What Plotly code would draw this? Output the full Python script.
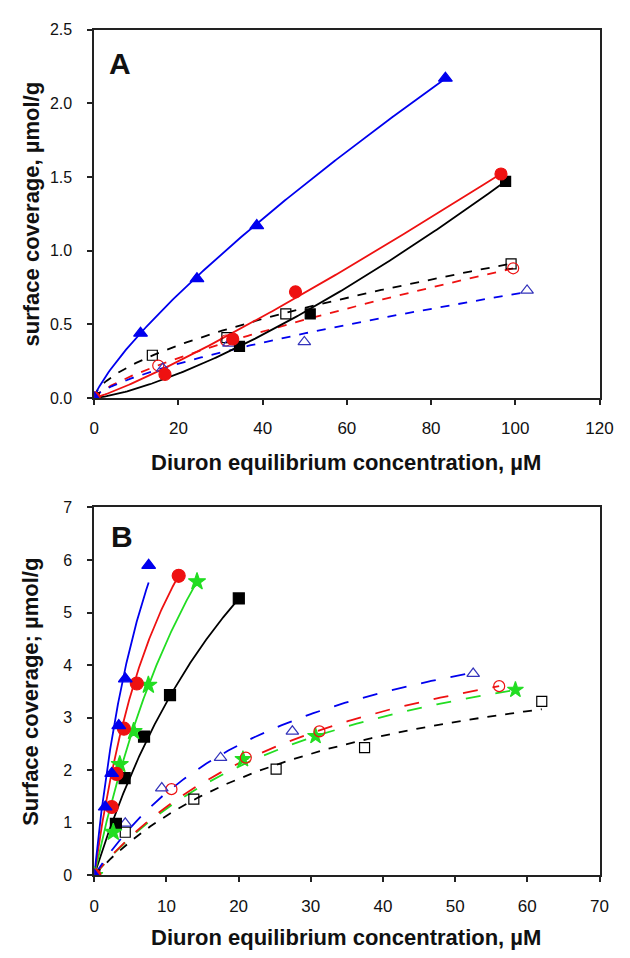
import numpy as np
import plotly.graph_objects as go

W, H = 630, 958

# ---------------- Panel A data (Diuron, µM vs µmol/g) ----------------
a_blue_x = [0, 11.0, 24.4, 38.6, 83.4]
a_blue_y = [0, 0.44, 0.81, 1.17, 2.17]
a_red_x = [0, 16.8, 32.9, 47.8, 96.6]
a_red_y = [0, 0.16, 0.40, 0.72, 1.52]
a_black_x = [0, 34.5, 51.3, 97.7]
a_black_y = [0, 0.35, 0.57, 1.47]
a_osq_x = [0, 13.8, 31.5, 45.5, 99.0]
a_osq_y = [0, 0.29, 0.41, 0.57, 0.91]
a_ocirc_x = [0, 15.2, 31.3, 99.5]
a_ocirc_y = [0, 0.22, 0.39, 0.88]
a_otri_x = [0, 16.3, 32.0, 49.9, 102.8]
a_otri_y = [0, 0.20, 0.37, 0.38, 0.73]

# Freundlich fit parameters (K, n, x_end)
a_fits = {
    "blue_solid": (0.0667, 0.787, 83.5),
    "red_solid": (0.00794, 1.15, 96.5),
    "black_solid": (0.00264, 1.38, 97.5),
    "black_dash": (0.062, 0.585, 99.0),
    "red_dash": (0.0302, 0.733, 99.5),
    "blue_dash": (0.0297, 0.688, 103.0),
}

# ---------------- Panel B data ----------------
b_blue_x = [0, 1.52, 2.42, 3.4, 4.3, 7.54]
b_blue_y = [0, 1.30, 1.94, 2.85, 3.74, 5.90]
b_red_x = [0, 2.42, 3.09, 4.12, 5.9, 11.7]
b_red_y = [0, 1.30, 1.93, 2.79, 3.65, 5.70]
b_green_x = [0, 2.64, 3.54, 5.46, 7.5, 14.24]
b_green_y = [0, 0.82, 2.11, 2.74, 3.62, 5.59]
b_black_x = [0, 3.0, 4.21, 6.9, 10.5, 20.03]
b_black_y = [0, 0.98, 1.85, 2.64, 3.43, 5.27]
b_otri_x = [0, 4.3, 9.36, 17.5, 27.45, 52.5]
b_otri_y = [0, 0.99, 1.66, 2.24, 2.74, 3.84]
b_ocirc_x = [0, 10.7, 21.0, 31.2, 56.1]
b_ocirc_y = [0, 1.64, 2.24, 2.74, 3.60]
b_ostar_x = [0, 20.6, 30.66, 58.35]
b_ostar_y = [0, 2.21, 2.65, 3.53]
b_osq_x = [0, 4.3, 13.8, 25.2, 37.45, 62.0]
b_osq_y = [0, 0.82, 1.45, 2.02, 2.43, 3.31]

# Langmuir fit parameters (qmax, K, x_end)
b_fits = {
    "blue_solid": (12.35, 0.109, 7.54),
    "red_solid": (11.42, 0.0853, 11.7),
    "green_solid": (14.39, 0.0446, 14.24),
    "black_solid": (13.1, 0.03355, 20.03),
    "blue_dash": (5.86, 0.03666, 51.9),
    "red_dash": (5.82, 0.02893, 56.1),
    "green_dash": (5.58, 0.02948, 58.35),
    "black_dash": (4.81, 0.0309, 62.0),
}

BLUE = "#0000EE"
RED = "#EE1111"
BLACK = "#000000"
GREEN = "#22DD22"
OBLUE = "#3333BB"

fig = go.Figure()


def freund(key):
    K, n, xe = a_fits[key]
    x = np.linspace(0, xe, 200)
    return x, K * x ** n


def langm(key):
    q, K, xe = b_fits[key]
    x = np.linspace(0, xe, 200)
    return x, q * K * x / (1 + K * x)


def line(x, y, color, dash, xa, ya, width=1.8):
    fig.add_trace(go.Scatter(x=x, y=y, mode="lines", xaxis=xa, yaxis=ya,
                             line=dict(color=color, width=width, dash=dash),
                             showlegend=False, hoverinfo="skip"))


def pts(x, y, symbol, color, size, xa, ya, lw=1.2):
    fig.add_trace(go.Scatter(x=x, y=y, mode="markers", xaxis=xa, yaxis=ya,
                             marker=dict(symbol=symbol, size=size, color=color,
                                         line=dict(color=color, width=lw)),
                             showlegend=False))


# ---- Panel A ----
for key, col, dash in [("black_dash", BLACK, "dash"), ("red_dash", RED, "dash"),
                       ("blue_dash", BLUE, "dash"), ("black_solid", BLACK, "solid"),
                       ("red_solid", RED, "solid"), ("blue_solid", BLUE, "solid")]:
    x, y = freund(key)
    line(x, y, col, dash, "x", "y")

pts(a_osq_x, a_osq_y, "square-open", BLACK, 10, "x", "y")
pts(a_ocirc_x, a_ocirc_y, "circle-open", RED, 11, "x", "y")
pts(a_otri_x, a_otri_y, "triangle-up-open", OBLUE, 11, "x", "y")
pts(a_black_x, a_black_y, "square", BLACK, 10, "x", "y")
pts(a_red_x, a_red_y, "circle", RED, 12, "x", "y")
pts(a_blue_x, a_blue_y, "triangle-up", BLUE, 12, "x", "y")

# ---- Panel B ----
for key, col, dash in [("black_dash", BLACK, "dash"), ("green_dash", GREEN, "longdash"),
                       ("red_dash", RED, "longdash"), ("blue_dash", BLUE, "longdash"),
                       ("black_solid", BLACK, "solid"), ("green_solid", GREEN, "solid"),
                       ("red_solid", RED, "solid"), ("blue_solid", BLUE, "solid")]:
    x, y = langm(key)
    line(x, y, col, dash, "x2", "y2")

pts(b_osq_x, b_osq_y, "square-open", BLACK, 10, "x2", "y2")
pts(b_ostar_x, b_ostar_y, "star", GREEN, 12, "x2", "y2")
pts(b_ocirc_x, b_ocirc_y, "circle-open", RED, 11, "x2", "y2")
pts(b_otri_x, b_otri_y, "triangle-up-open", OBLUE, 11, "x2", "y2")
pts(b_black_x, b_black_y, "square", BLACK, 11, "x2", "y2")
pts(b_green_x, b_green_y, "star", GREEN, 13, "x2", "y2")
pts(b_red_x, b_red_y, "circle", RED, 13, "x2", "y2")
pts(b_blue_x, b_blue_y, "triangle-up", BLUE, 12, "x2", "y2")

FONT = "Liberation Sans, Arial, sans-serif"
xdom = [92 / W, 613 / W]


def ax(rng, dtick, dom, anchor, tickfont, fmt=None, standoff=10):
    d = dict(range=rng, dtick=dtick, tick0=0, domain=dom, anchor=anchor,
             showgrid=False, zeroline=False, showline=True, linecolor="#222",
             linewidth=1.6, mirror=True, ticks="outside", ticklen=5, tickwidth=1.5,
             tickcolor="#222", tickfont=dict(family=FONT, size=tickfont, color="#111"),
             ticklabelstandoff=standoff, fixedrange=True)
    if fmt:
        d["tickformat"] = fmt
    return d


fig.update_layout(
    width=W, height=H, margin=dict(l=0, r=0, t=0, b=0),
    paper_bgcolor="white", plot_bgcolor="white",
    xaxis=ax([0, 120], 20, xdom, "y", 17, standoff=9),
    yaxis=ax([0, 2.5], 0.5, [1 - 397 / H, 1 - 22 / H], "x", 16, ".1f", standoff=12),
    xaxis2=ax([0, 70], 10, xdom, "y2", 17, standoff=9),
    yaxis2=ax([0, 7], 1, [1 - 883 / H, 1 - 508.5 / H], "x2", 16, standoff=12),
)

TF = dict(family=FONT, size=22, color="#111")
anns = [
    dict(text="<b>A</b>", x=119 / W, y=1 - 56 / H, font=dict(family=FONT, size=30, color="#111")),
    dict(text="<b>B</b>", x=121 / W, y=1 - 538 / H, font=dict(family=FONT, size=30, color="#111")),
    dict(text="<b>Diuron equilibrium concentration, \u00b5M</b>", x=352 / W, y=1 - 463 / H, font=TF),
    dict(text="<b>Diuron equilibrium concentration, \u00b5M</b>", x=352 / W, y=1 - 946 / H, font=TF),
    dict(text="<b>surface coverage, \u00b5mol/g</b>", x=27 / W, y=1 - 210 / H, font=TF, textangle=-90),
    dict(text="<b>Surface coverage; \u00b5mol/g</b>", x=26 / W, y=1 - 696 / H, font=TF, textangle=-90),
]
for a in anns:
    fig.add_annotation(xref="paper", yref="paper", showarrow=False,
                       xanchor="center", yanchor="middle", **a)

fig.write_html("out.html")
